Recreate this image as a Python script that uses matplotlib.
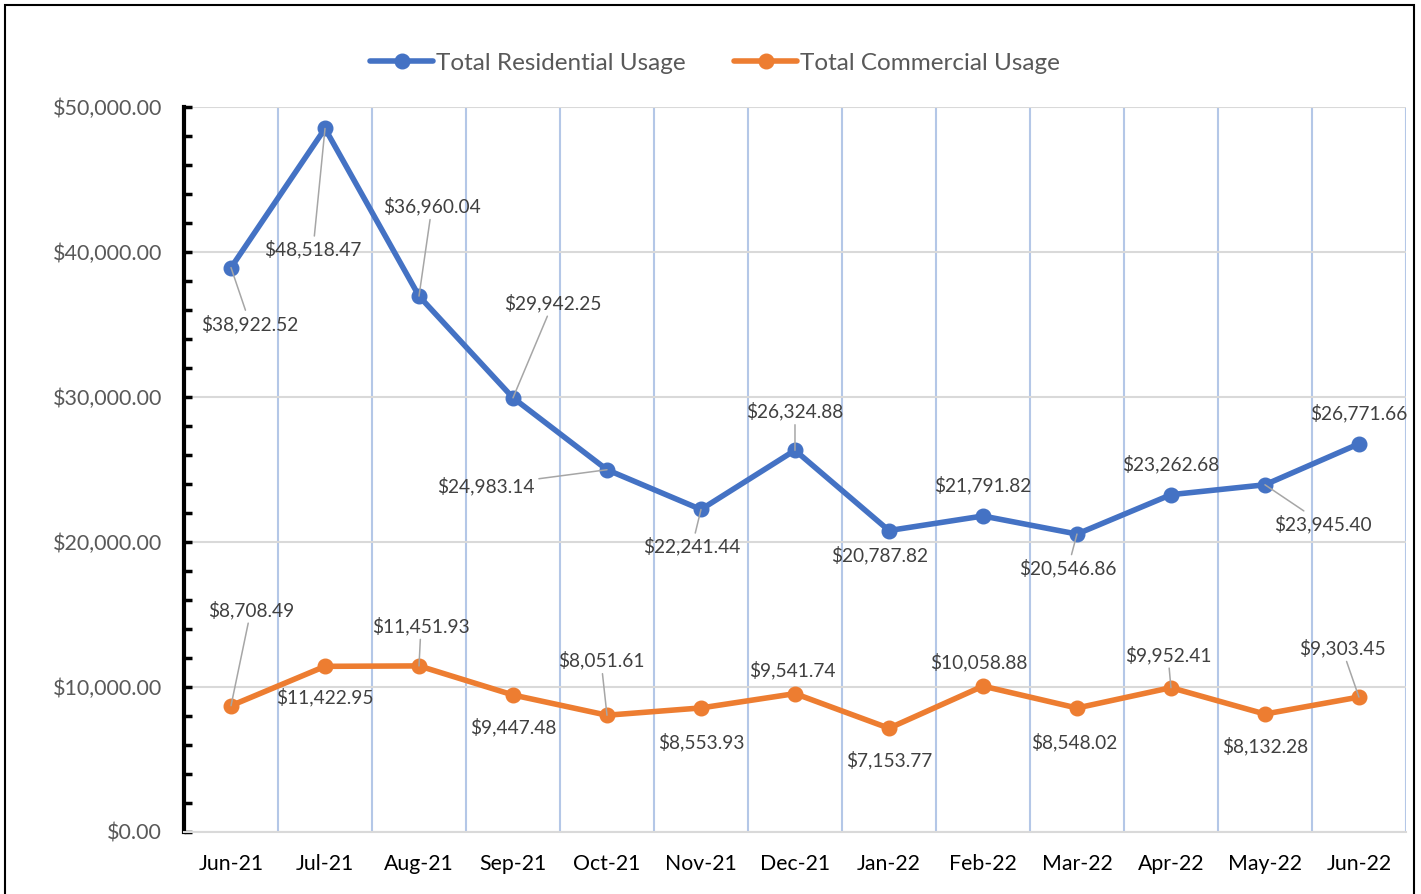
import matplotlib
matplotlib.use('Agg')
import matplotlib.pyplot as plt
from matplotlib.patches import Rectangle
from matplotlib.ticker import MultipleLocator, FuncFormatter

plt.rcParams['font.family'] = ['Lato', 'DejaVu Sans']

months = ['Jun-21', 'Jul-21', 'Aug-21', 'Sep-21', 'Oct-21', 'Nov-21', 'Dec-21',
          'Jan-22', 'Feb-22', 'Mar-22', 'Apr-22', 'May-22', 'Jun-22']
residential = [38922.52, 48518.47, 36960.04, 29942.25, 24983.14, 22241.44, 26324.88,
               20787.82, 21791.82, 20546.86, 23262.68, 23945.40, 26771.66]
commercial = [8708.49, 11422.95, 11451.93, 9447.48, 8051.61, 8553.93, 9541.74,
              7153.77, 10058.88, 8548.02, 9952.41, 8132.28, 9303.45]

# label offsets in pixels (dx, dy) and whether a leader line is drawn
res_offsets = [(19, -56), (-12, -121), (13, 90), (40, 95), (-121, -16), (-9, -37), (0, 39),
               (-9, -25), (0, 31), (-9, -34), (0, 31), (58, -39), (0, 31)]
res_leader = [1, 1, 1, 1, 1, 1, 1, 0, 0, 1, 0, 1, 0]
com_offsets = [(20, 96), (0, -31), (2, 40), (0, -32), (-6, 55), (0, -34), (-3, 24),
               (0, -32), (-4, 24), (-3, -34), (-3, 33), (0, -32), (-17, 49)]
com_leader = [1, 0, 1, 0, 1, 0, 0, 0, 0, 0, 1, 0, 1]

blue = '#4472c4'
orange = '#ed7d31'

fig = plt.figure(figsize=(14.21, 8.94), dpi=100)
ax = fig.add_axes([0.1295, 0.0694, 0.8599, 0.8109])

x = list(range(len(months)))
ax.plot(x, residential, color=blue, lw=4, marker='o', ms=10.5, label='Total Residential Usage',
        solid_capstyle='round', zorder=4)
ax.plot(x, commercial, color=orange, lw=4, marker='o', ms=10.5, label='Total Commercial Usage',
        solid_capstyle='round', zorder=4)

def add_labels(vals, offsets, leaders):
    for i, v in enumerate(vals):
        props = None
        if leaders[i]:
            props = dict(arrowstyle='-', color='#a6a6a6', lw=1.1, shrinkA=1, shrinkB=0)
        ax.annotate('${:,.2f}'.format(v), xy=(i, v), xytext=offsets[i],
                    textcoords='offset pixels', ha='center', va='center',
                    fontsize=13.8, color='#404040', arrowprops=props, zorder=5)

add_labels(residential, res_offsets, res_leader)
add_labels(commercial, com_offsets, com_leader)

ax.set_xlim(-0.5, len(months) - 0.5)
ax.set_ylim(0, 50000)
ax.set_xticks(x)
ax.set_xticklabels(months, fontsize=15.3, color='#000000')
ax.tick_params(axis='x', length=0, pad=16)

ax.yaxis.set_major_locator(MultipleLocator(10000))
ax.yaxis.set_minor_locator(MultipleLocator(2000))
ax.yaxis.set_major_formatter(FuncFormatter(lambda v, p: '${:,.2f}'.format(v)))
ax.tick_params(axis='y', which='both', direction='in', length=6, width=2.5,
               labelsize=15.5, labelcolor='#595959', pad=16)

# gridlines: horizontal gray, vertical blue at category boundaries
ax.grid(axis='y', color='#d9d9d9', lw=1.5, zorder=0)
for b in range(len(months)):
    ax.axvline(b + 0.5, color='#b4c7e7', lw=1.5, zorder=0)

for s in ['top', 'right']:
    ax.spines[s].set_visible(False)
ax.spines['left'].set_linewidth(3)
ax.spines['left'].set_color('black')
ax.spines['bottom'].set_color('#d9d9d9')
ax.spines['bottom'].set_linewidth(1.5)

leg = fig.legend(loc='center', bbox_to_anchor=(0.503, 0.929), ncol=2, frameon=False,
                 fontsize=17.5, handlelength=2.6, handletextpad=0.1, columnspacing=2.0,
                 labelcolor='#595959')

fig.add_artist(Rectangle((0.0035, -0.01), 0.9915, 1.0044, fill=False, lw=1.5,
                         edgecolor='black', transform=fig.transFigure))

fig.savefig('out.png', dpi=100)
